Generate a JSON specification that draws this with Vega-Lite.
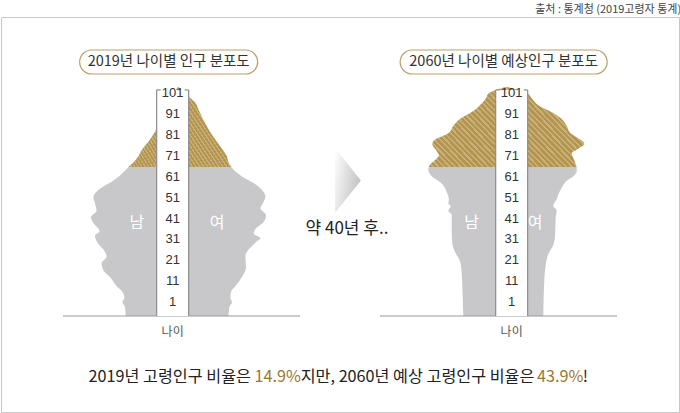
{
"$schema":"https://vega.github.io/schema/vega-lite/v6.json",
"width":678,"height":395,
"autosize":"none",
"padding":{"top":17,"left":1,"right":1,"bottom":1},
"background":"white",
"config":{"view":{"stroke":"#c9c9c9","strokeWidth":1},"axis":{"disable":true}},
"datasets":{
"pop":[
{"year":2019,"sex":"남","age":0,"pop":262},{"year":2019,"sex":"남","age":4,"pop":265},{"year":2019,"sex":"남","age":6,"pop":278},{"year":2019,"sex":"남","age":8,"pop":268},{"year":2019,"sex":"남","age":11,"pop":282},{"year":2019,"sex":"남","age":13,"pop":306},{"year":2019,"sex":"남","age":17,"pop":340},{"year":2019,"sex":"남","age":20,"pop":373},{"year":2019,"sex":"남","age":23,"pop":382},{"year":2019,"sex":"남","age":26,"pop":357},{"year":2019,"sex":"남","age":29,"pop":373},{"year":2019,"sex":"남","age":32,"pop":402},{"year":2019,"sex":"남","age":35,"pop":415},{"year":2019,"sex":"남","age":37,"pop":392},{"year":2019,"sex":"남","age":40,"pop":418},{"year":2019,"sex":"남","age":43,"pop":435},{"year":2019,"sex":"남","age":46,"pop":407},{"year":2019,"sex":"남","age":49,"pop":415},{"year":2019,"sex":"남","age":52,"pop":423},{"year":2019,"sex":"남","age":55,"pop":398},{"year":2019,"sex":"남","age":59,"pop":325},{"year":2019,"sex":"남","age":62,"pop":282},{"year":2019,"sex":"남","age":65,"pop":248},{"year":2019,"sex":"남","age":67,"pop":223},{"year":2019,"sex":"남","age":70,"pop":196},{"year":2019,"sex":"남","age":72,"pop":184},{"year":2019,"sex":"남","age":77,"pop":140},{"year":2019,"sex":"남","age":84,"pop":95},{"year":2019,"sex":"남","age":91,"pop":80},{"year":2019,"sex":"남","age":95,"pop":50},{"year":2019,"sex":"남","age":98,"pop":15},{"year":2019,"sex":"남","age":100,"pop":0},
{"year":2019,"sex":"여","age":0,"pop":253},{"year":2019,"sex":"여","age":4,"pop":257},{"year":2019,"sex":"여","age":6,"pop":270},{"year":2019,"sex":"여","age":8,"pop":262},{"year":2019,"sex":"여","age":11,"pop":267},{"year":2019,"sex":"여","age":13,"pop":287},{"year":2019,"sex":"여","age":17,"pop":320},{"year":2019,"sex":"여","age":21,"pop":340},{"year":2019,"sex":"여","age":26,"pop":337},{"year":2019,"sex":"여","age":29,"pop":353},{"year":2019,"sex":"여","age":32,"pop":387},{"year":2019,"sex":"여","age":34,"pop":412},{"year":2019,"sex":"여","age":36,"pop":378},{"year":2019,"sex":"여","age":38,"pop":387},{"year":2019,"sex":"여","age":41,"pop":428},{"year":2019,"sex":"여","age":44,"pop":440},{"year":2019,"sex":"여","age":47,"pop":412},{"year":2019,"sex":"여","age":49,"pop":423},{"year":2019,"sex":"여","age":52,"pop":437},{"year":2019,"sex":"여","age":55,"pop":420},{"year":2019,"sex":"여","age":58,"pop":378},{"year":2019,"sex":"여","age":61,"pop":318},{"year":2019,"sex":"여","age":63,"pop":287},{"year":2019,"sex":"여","age":65,"pop":267},{"year":2019,"sex":"여","age":67,"pop":253},{"year":2019,"sex":"여","age":70,"pop":243},{"year":2019,"sex":"여","age":74,"pop":212},{"year":2019,"sex":"여","age":78,"pop":178},{"year":2019,"sex":"여","age":84,"pop":137},{"year":2019,"sex":"여","age":90,"pop":103},{"year":2019,"sex":"여","age":93,"pop":87},{"year":2019,"sex":"여","age":96,"pop":50},{"year":2019,"sex":"여","age":100,"pop":0},
{"year":2060,"sex":"남","age":0,"pop":216},{"year":2060,"sex":"남","age":13,"pop":221},{"year":2060,"sex":"남","age":19,"pop":224},{"year":2060,"sex":"남","age":24,"pop":233},{"year":2060,"sex":"남","age":28,"pop":258},{"year":2060,"sex":"남","age":32,"pop":271},{"year":2060,"sex":"남","age":38,"pop":274},{"year":2060,"sex":"남","age":44,"pop":274},{"year":2060,"sex":"남","age":46,"pop":291},{"year":2060,"sex":"남","age":48,"pop":278},{"year":2060,"sex":"남","age":49,"pop":291},{"year":2060,"sex":"남","age":51,"pop":288},{"year":2060,"sex":"남","age":54,"pop":299},{"year":2060,"sex":"남","age":57,"pop":316},{"year":2060,"sex":"남","age":59,"pop":341},{"year":2060,"sex":"남","age":61,"pop":374},{"year":2060,"sex":"남","age":64,"pop":391},{"year":2060,"sex":"남","age":65,"pop":388},{"year":2060,"sex":"남","age":66,"pop":383},{"year":2060,"sex":"남","age":68,"pop":358},{"year":2060,"sex":"남","age":70,"pop":338},{"year":2060,"sex":"남","age":72,"pop":349},{"year":2060,"sex":"남","age":75,"pop":371},{"year":2060,"sex":"남","age":77,"pop":358},{"year":2060,"sex":"남","age":78,"pop":333},{"year":2060,"sex":"남","age":80,"pop":288},{"year":2060,"sex":"남","age":83,"pop":266},{"year":2060,"sex":"남","age":86,"pop":233},{"year":2060,"sex":"남","age":89,"pop":174},{"year":2060,"sex":"남","age":92,"pop":133},{"year":2060,"sex":"남","age":95,"pop":103},{"year":2060,"sex":"남","age":97,"pop":91},{"year":2060,"sex":"남","age":100,"pop":0},
{"year":2060,"sex":"여","age":0,"pop":184},{"year":2060,"sex":"여","age":16,"pop":189},{"year":2060,"sex":"여","age":22,"pop":196},{"year":2060,"sex":"여","age":27,"pop":209},{"year":2060,"sex":"여","age":31,"pop":234},{"year":2060,"sex":"여","age":35,"pop":243},{"year":2060,"sex":"여","age":43,"pop":246},{"year":2060,"sex":"여","age":46,"pop":251},{"year":2060,"sex":"여","age":48,"pop":234},{"year":2060,"sex":"여","age":51,"pop":251},{"year":2060,"sex":"여","age":53,"pop":259},{"year":2060,"sex":"여","age":56,"pop":276},{"year":2060,"sex":"여","age":59,"pop":301},{"year":2060,"sex":"여","age":61,"pop":334},{"year":2060,"sex":"여","age":63,"pop":351},{"year":2060,"sex":"여","age":65,"pop":351},{"year":2060,"sex":"여","age":68,"pop":339},{"year":2060,"sex":"여","age":71,"pop":326},{"year":2060,"sex":"여","age":73,"pop":359},{"year":2060,"sex":"여","age":75,"pop":389},{"year":2060,"sex":"여","age":76,"pop":384},{"year":2060,"sex":"여","age":78,"pop":351},{"year":2060,"sex":"여","age":80,"pop":318},{"year":2060,"sex":"여","age":83,"pop":301},{"year":2060,"sex":"여","age":86,"pop":276},{"year":2060,"sex":"여","age":89,"pop":226},{"year":2060,"sex":"여","age":92,"pop":159},{"year":2060,"sex":"여","age":95,"pop":126},{"year":2060,"sex":"여","age":97,"pop":109},{"year":2060,"sex":"여","age":100,"pop":0}
],
"years":[{"year":"2019"},{"year":"2060"}],
"ages":[{"year":"2019","age":1},{"year":"2019","age":11},{"year":"2019","age":21},{"year":"2019","age":31},{"year":"2019","age":41},{"year":"2019","age":51},{"year":"2019","age":61},{"year":"2019","age":71},{"year":"2019","age":81},{"year":"2019","age":91},{"year":"2019","age":101},
{"year":"2060","age":1},{"year":"2060","age":11},{"year":"2060","age":21},{"year":"2060","age":31},{"year":"2060","age":41},{"year":"2060","age":51},{"year":"2060","age":61},{"year":"2060","age":71},{"year":"2060","age":81},{"year":"2060","age":91},{"year":"2060","age":101}],
"titles":[{"year":"2019","title":"2019년 나이별 인구 분포도"},{"year":"2060","title":"2060년 나이별 예상인구 분포도"}],
"mid":[{"year":"mid","label":"약 40년 후.."}],
"src":[{"year":"2060","label":"출처 : 통계청 (2019고령자 통계)"}]
},
"resolve":{"scale":{"x":"independent","y":"independent"}},
"layer":[
{"layer":[
 {"data":{"name":"pop"},"transform":[{"filter":"datum.year == 2019 && datum.sex == '남' && datum.age <= 65"}],
  "mark":{"type":"area","orient":"horizontal","interpolate":"monotone","color":"#c8c8ca"},
  "encoding":{"y":{"field":"age","type":"quantitative","scale":{"domain":[-41.885,130.45],"nice":false,"zero":false}},"x":{"field":"pop","type":"quantitative","scale":{"domain":[-2505,885],"reverse":true,"nice":false,"zero":false}},"x2":{"datum":0}}},
 {"data":{"name":"pop"},"transform":[{"filter":"datum.year == 2019 && datum.sex == '남' && datum.age >= 65"}],
  "mark":{"type":"area","orient":"horizontal","interpolate":"monotone","color":{"gradient":"linear","x1":0,"y1":1,"x2":1,"y2":0,"stops":[{"offset":0,"color":"#b3954f"},{"offset":0.0214,"color":"#b3954f"},{"offset":0.0214,"color":"#c9b07a"},{"offset":0.0357,"color":"#c9b07a"},{"offset":0.0357,"color":"#b3954f"},{"offset":0.0571,"color":"#b3954f"},{"offset":0.0571,"color":"#c9b07a"},{"offset":0.0714,"color":"#c9b07a"},{"offset":0.0714,"color":"#b3954f"},{"offset":0.0929,"color":"#b3954f"},{"offset":0.0929,"color":"#c9b07a"},{"offset":0.1071,"color":"#c9b07a"},{"offset":0.1071,"color":"#b3954f"},{"offset":0.1286,"color":"#b3954f"},{"offset":0.1286,"color":"#c9b07a"},{"offset":0.1429,"color":"#c9b07a"},{"offset":0.1429,"color":"#b3954f"},{"offset":0.1643,"color":"#b3954f"},{"offset":0.1643,"color":"#c9b07a"},{"offset":0.1786,"color":"#c9b07a"},{"offset":0.1786,"color":"#b3954f"},{"offset":0.2,"color":"#b3954f"},{"offset":0.2,"color":"#c9b07a"},{"offset":0.2143,"color":"#c9b07a"},{"offset":0.2143,"color":"#b3954f"},{"offset":0.2357,"color":"#b3954f"},{"offset":0.2357,"color":"#c9b07a"},{"offset":0.25,"color":"#c9b07a"},{"offset":0.25,"color":"#b3954f"},{"offset":0.2714,"color":"#b3954f"},{"offset":0.2714,"color":"#c9b07a"},{"offset":0.2857,"color":"#c9b07a"},{"offset":0.2857,"color":"#b3954f"},{"offset":0.3071,"color":"#b3954f"},{"offset":0.3071,"color":"#c9b07a"},{"offset":0.3214,"color":"#c9b07a"},{"offset":0.3214,"color":"#b3954f"},{"offset":0.3429,"color":"#b3954f"},{"offset":0.3429,"color":"#c9b07a"},{"offset":0.3571,"color":"#c9b07a"},{"offset":0.3571,"color":"#b3954f"},{"offset":0.3786,"color":"#b3954f"},{"offset":0.3786,"color":"#c9b07a"},{"offset":0.3929,"color":"#c9b07a"},{"offset":0.3929,"color":"#b3954f"},{"offset":0.4143,"color":"#b3954f"},{"offset":0.4143,"color":"#c9b07a"},{"offset":0.4286,"color":"#c9b07a"},{"offset":0.4286,"color":"#b3954f"},{"offset":0.45,"color":"#b3954f"},{"offset":0.45,"color":"#c9b07a"},{"offset":0.4643,"color":"#c9b07a"},{"offset":0.4643,"color":"#b3954f"},{"offset":0.4857,"color":"#b3954f"},{"offset":0.4857,"color":"#c9b07a"},{"offset":0.5,"color":"#c9b07a"},{"offset":0.5,"color":"#b3954f"},{"offset":0.5214,"color":"#b3954f"},{"offset":0.5214,"color":"#c9b07a"},{"offset":0.5357,"color":"#c9b07a"},{"offset":0.5357,"color":"#b3954f"},{"offset":0.5571,"color":"#b3954f"},{"offset":0.5571,"color":"#c9b07a"},{"offset":0.5714,"color":"#c9b07a"},{"offset":0.5714,"color":"#b3954f"},{"offset":0.5929,"color":"#b3954f"},{"offset":0.5929,"color":"#c9b07a"},{"offset":0.6071,"color":"#c9b07a"},{"offset":0.6071,"color":"#b3954f"},{"offset":0.6286,"color":"#b3954f"},{"offset":0.6286,"color":"#c9b07a"},{"offset":0.6429,"color":"#c9b07a"},{"offset":0.6429,"color":"#b3954f"},{"offset":0.6643,"color":"#b3954f"},{"offset":0.6643,"color":"#c9b07a"},{"offset":0.6786,"color":"#c9b07a"},{"offset":0.6786,"color":"#b3954f"},{"offset":0.7,"color":"#b3954f"},{"offset":0.7,"color":"#c9b07a"},{"offset":0.7143,"color":"#c9b07a"},{"offset":0.7143,"color":"#b3954f"},{"offset":0.7357,"color":"#b3954f"},{"offset":0.7357,"color":"#c9b07a"},{"offset":0.75,"color":"#c9b07a"},{"offset":0.75,"color":"#b3954f"},{"offset":0.7714,"color":"#b3954f"},{"offset":0.7714,"color":"#c9b07a"},{"offset":0.7857,"color":"#c9b07a"},{"offset":0.7857,"color":"#b3954f"},{"offset":0.8071,"color":"#b3954f"},{"offset":0.8071,"color":"#c9b07a"},{"offset":0.8214,"color":"#c9b07a"},{"offset":0.8214,"color":"#b3954f"},{"offset":0.8429,"color":"#b3954f"},{"offset":0.8429,"color":"#c9b07a"},{"offset":0.8571,"color":"#c9b07a"},{"offset":0.8571,"color":"#b3954f"},{"offset":0.8786,"color":"#b3954f"},{"offset":0.8786,"color":"#c9b07a"},{"offset":0.8929,"color":"#c9b07a"},{"offset":0.8929,"color":"#b3954f"},{"offset":0.9143,"color":"#b3954f"},{"offset":0.9143,"color":"#c9b07a"},{"offset":0.9286,"color":"#c9b07a"},{"offset":0.9286,"color":"#b3954f"},{"offset":0.95,"color":"#b3954f"},{"offset":0.95,"color":"#c9b07a"},{"offset":0.9643,"color":"#c9b07a"},{"offset":0.9643,"color":"#b3954f"},{"offset":0.9857,"color":"#b3954f"},{"offset":0.9857,"color":"#c9b07a"},{"offset":1,"color":"#c9b07a"}]}},
  "encoding":{"y":{"field":"age","type":"quantitative","scale":{"domain":[-41.885,130.45],"nice":false,"zero":false}},"x":{"field":"pop","type":"quantitative","scale":{"domain":[-2505,885],"reverse":true,"nice":false,"zero":false}},"x2":{"datum":0}}},
 {"data":{"values":[{"label":"남"}]},"mark":{"type":"text","color":"#ffffff","fontSize":16,"font":"Noto Sans CJK KR"},
  "encoding":{"text":{"field":"label"},"x":{"datum":206,"type":"quantitative","scale":{"domain":[-2505,885],"reverse":true,"nice":false,"zero":false}},"y":{"datum":40.4,"type":"quantitative","scale":{"domain":[-41.885,130.45],"nice":false,"zero":false}}}}
]},
{"layer":[
 {"data":{"name":"pop"},"transform":[{"filter":"datum.year == 2019 && datum.sex == '여' && datum.age <= 65"}],
  "mark":{"type":"area","orient":"horizontal","interpolate":"monotone","color":"#c8c8ca"},
  "encoding":{"y":{"field":"age","type":"quantitative","scale":{"domain":[-41.885,130.45],"nice":false,"zero":false}},"x":{"field":"pop","type":"quantitative","scale":{"domain":[-885,2505],"nice":false,"zero":false}},"x2":{"datum":0}}},
 {"data":{"name":"pop"},"transform":[{"filter":"datum.year == 2019 && datum.sex == '여' && datum.age >= 65"}],
  "mark":{"type":"area","orient":"horizontal","interpolate":"monotone","color":{"gradient":"linear","x1":0,"y1":1,"x2":1,"y2":0,"stops":[{"offset":0,"color":"#b3954f"},{"offset":0.0214,"color":"#b3954f"},{"offset":0.0214,"color":"#c9b07a"},{"offset":0.0357,"color":"#c9b07a"},{"offset":0.0357,"color":"#b3954f"},{"offset":0.0571,"color":"#b3954f"},{"offset":0.0571,"color":"#c9b07a"},{"offset":0.0714,"color":"#c9b07a"},{"offset":0.0714,"color":"#b3954f"},{"offset":0.0929,"color":"#b3954f"},{"offset":0.0929,"color":"#c9b07a"},{"offset":0.1071,"color":"#c9b07a"},{"offset":0.1071,"color":"#b3954f"},{"offset":0.1286,"color":"#b3954f"},{"offset":0.1286,"color":"#c9b07a"},{"offset":0.1429,"color":"#c9b07a"},{"offset":0.1429,"color":"#b3954f"},{"offset":0.1643,"color":"#b3954f"},{"offset":0.1643,"color":"#c9b07a"},{"offset":0.1786,"color":"#c9b07a"},{"offset":0.1786,"color":"#b3954f"},{"offset":0.2,"color":"#b3954f"},{"offset":0.2,"color":"#c9b07a"},{"offset":0.2143,"color":"#c9b07a"},{"offset":0.2143,"color":"#b3954f"},{"offset":0.2357,"color":"#b3954f"},{"offset":0.2357,"color":"#c9b07a"},{"offset":0.25,"color":"#c9b07a"},{"offset":0.25,"color":"#b3954f"},{"offset":0.2714,"color":"#b3954f"},{"offset":0.2714,"color":"#c9b07a"},{"offset":0.2857,"color":"#c9b07a"},{"offset":0.2857,"color":"#b3954f"},{"offset":0.3071,"color":"#b3954f"},{"offset":0.3071,"color":"#c9b07a"},{"offset":0.3214,"color":"#c9b07a"},{"offset":0.3214,"color":"#b3954f"},{"offset":0.3429,"color":"#b3954f"},{"offset":0.3429,"color":"#c9b07a"},{"offset":0.3571,"color":"#c9b07a"},{"offset":0.3571,"color":"#b3954f"},{"offset":0.3786,"color":"#b3954f"},{"offset":0.3786,"color":"#c9b07a"},{"offset":0.3929,"color":"#c9b07a"},{"offset":0.3929,"color":"#b3954f"},{"offset":0.4143,"color":"#b3954f"},{"offset":0.4143,"color":"#c9b07a"},{"offset":0.4286,"color":"#c9b07a"},{"offset":0.4286,"color":"#b3954f"},{"offset":0.45,"color":"#b3954f"},{"offset":0.45,"color":"#c9b07a"},{"offset":0.4643,"color":"#c9b07a"},{"offset":0.4643,"color":"#b3954f"},{"offset":0.4857,"color":"#b3954f"},{"offset":0.4857,"color":"#c9b07a"},{"offset":0.5,"color":"#c9b07a"},{"offset":0.5,"color":"#b3954f"},{"offset":0.5214,"color":"#b3954f"},{"offset":0.5214,"color":"#c9b07a"},{"offset":0.5357,"color":"#c9b07a"},{"offset":0.5357,"color":"#b3954f"},{"offset":0.5571,"color":"#b3954f"},{"offset":0.5571,"color":"#c9b07a"},{"offset":0.5714,"color":"#c9b07a"},{"offset":0.5714,"color":"#b3954f"},{"offset":0.5929,"color":"#b3954f"},{"offset":0.5929,"color":"#c9b07a"},{"offset":0.6071,"color":"#c9b07a"},{"offset":0.6071,"color":"#b3954f"},{"offset":0.6286,"color":"#b3954f"},{"offset":0.6286,"color":"#c9b07a"},{"offset":0.6429,"color":"#c9b07a"},{"offset":0.6429,"color":"#b3954f"},{"offset":0.6643,"color":"#b3954f"},{"offset":0.6643,"color":"#c9b07a"},{"offset":0.6786,"color":"#c9b07a"},{"offset":0.6786,"color":"#b3954f"},{"offset":0.7,"color":"#b3954f"},{"offset":0.7,"color":"#c9b07a"},{"offset":0.7143,"color":"#c9b07a"},{"offset":0.7143,"color":"#b3954f"},{"offset":0.7357,"color":"#b3954f"},{"offset":0.7357,"color":"#c9b07a"},{"offset":0.75,"color":"#c9b07a"},{"offset":0.75,"color":"#b3954f"},{"offset":0.7714,"color":"#b3954f"},{"offset":0.7714,"color":"#c9b07a"},{"offset":0.7857,"color":"#c9b07a"},{"offset":0.7857,"color":"#b3954f"},{"offset":0.8071,"color":"#b3954f"},{"offset":0.8071,"color":"#c9b07a"},{"offset":0.8214,"color":"#c9b07a"},{"offset":0.8214,"color":"#b3954f"},{"offset":0.8429,"color":"#b3954f"},{"offset":0.8429,"color":"#c9b07a"},{"offset":0.8571,"color":"#c9b07a"},{"offset":0.8571,"color":"#b3954f"},{"offset":0.8786,"color":"#b3954f"},{"offset":0.8786,"color":"#c9b07a"},{"offset":0.8929,"color":"#c9b07a"},{"offset":0.8929,"color":"#b3954f"},{"offset":0.9143,"color":"#b3954f"},{"offset":0.9143,"color":"#c9b07a"},{"offset":0.9286,"color":"#c9b07a"},{"offset":0.9286,"color":"#b3954f"},{"offset":0.95,"color":"#b3954f"},{"offset":0.95,"color":"#c9b07a"},{"offset":0.9643,"color":"#c9b07a"},{"offset":0.9643,"color":"#b3954f"},{"offset":0.9857,"color":"#b3954f"},{"offset":0.9857,"color":"#c9b07a"},{"offset":1,"color":"#c9b07a"}]}},
  "encoding":{"y":{"field":"age","type":"quantitative","scale":{"domain":[-41.885,130.45],"nice":false,"zero":false}},"x":{"field":"pop","type":"quantitative","scale":{"domain":[-885,2505],"nice":false,"zero":false}},"x2":{"datum":0}}},
 {"data":{"values":[{"label":"여"}]},"mark":{"type":"text","color":"#ffffff","fontSize":16,"font":"Noto Sans CJK KR"},
  "encoding":{"text":{"field":"label"},"x":{"datum":195,"type":"quantitative","scale":{"domain":[-885,2505],"nice":false,"zero":false}},"y":{"datum":40.4,"type":"quantitative","scale":{"domain":[-41.885,130.45],"nice":false,"zero":false}}}},
 {"data":{"values":[{"label":"base"}]},"mark":{"type":"rule","color":"#9a9a9a","strokeWidth":1.2},
  "encoding":{"x":{"datum":-575,"type":"quantitative","scale":{"domain":[-885,2505],"nice":false,"zero":false}},"x2":{"datum":610},"y":{"datum":0,"type":"quantitative","scale":{"domain":[-41.885,130.45],"nice":false,"zero":false}}}}
]},
{"layer":[
 {"data":{"name":"pop"},"transform":[{"filter":"datum.year == 2060 && datum.sex == '남' && datum.age <= 65"}],
  "mark":{"type":"area","orient":"horizontal","interpolate":"monotone","color":"#c8c8ca"},
  "encoding":{"y":{"field":"age","type":"quantitative","scale":{"domain":[-41.885,130.45],"nice":false,"zero":false}},"x":{"field":"pop","type":"quantitative","scale":{"domain":[-862.5,2527.5],"reverse":true,"nice":false,"zero":false}},"x2":{"datum":0}}},
 {"data":{"name":"pop"},"transform":[{"filter":"datum.year == 2060 && datum.sex == '남' && datum.age >= 65"}],
  "mark":{"type":"area","orient":"horizontal","interpolate":"monotone","color":{"gradient":"linear","x1":0,"y1":1,"x2":1,"y2":0,"stops":[{"offset":0,"color":"#b3954f"},{"offset":0.0214,"color":"#b3954f"},{"offset":0.0214,"color":"#c9b07a"},{"offset":0.0357,"color":"#c9b07a"},{"offset":0.0357,"color":"#b3954f"},{"offset":0.0571,"color":"#b3954f"},{"offset":0.0571,"color":"#c9b07a"},{"offset":0.0714,"color":"#c9b07a"},{"offset":0.0714,"color":"#b3954f"},{"offset":0.0929,"color":"#b3954f"},{"offset":0.0929,"color":"#c9b07a"},{"offset":0.1071,"color":"#c9b07a"},{"offset":0.1071,"color":"#b3954f"},{"offset":0.1286,"color":"#b3954f"},{"offset":0.1286,"color":"#c9b07a"},{"offset":0.1429,"color":"#c9b07a"},{"offset":0.1429,"color":"#b3954f"},{"offset":0.1643,"color":"#b3954f"},{"offset":0.1643,"color":"#c9b07a"},{"offset":0.1786,"color":"#c9b07a"},{"offset":0.1786,"color":"#b3954f"},{"offset":0.2,"color":"#b3954f"},{"offset":0.2,"color":"#c9b07a"},{"offset":0.2143,"color":"#c9b07a"},{"offset":0.2143,"color":"#b3954f"},{"offset":0.2357,"color":"#b3954f"},{"offset":0.2357,"color":"#c9b07a"},{"offset":0.25,"color":"#c9b07a"},{"offset":0.25,"color":"#b3954f"},{"offset":0.2714,"color":"#b3954f"},{"offset":0.2714,"color":"#c9b07a"},{"offset":0.2857,"color":"#c9b07a"},{"offset":0.2857,"color":"#b3954f"},{"offset":0.3071,"color":"#b3954f"},{"offset":0.3071,"color":"#c9b07a"},{"offset":0.3214,"color":"#c9b07a"},{"offset":0.3214,"color":"#b3954f"},{"offset":0.3429,"color":"#b3954f"},{"offset":0.3429,"color":"#c9b07a"},{"offset":0.3571,"color":"#c9b07a"},{"offset":0.3571,"color":"#b3954f"},{"offset":0.3786,"color":"#b3954f"},{"offset":0.3786,"color":"#c9b07a"},{"offset":0.3929,"color":"#c9b07a"},{"offset":0.3929,"color":"#b3954f"},{"offset":0.4143,"color":"#b3954f"},{"offset":0.4143,"color":"#c9b07a"},{"offset":0.4286,"color":"#c9b07a"},{"offset":0.4286,"color":"#b3954f"},{"offset":0.45,"color":"#b3954f"},{"offset":0.45,"color":"#c9b07a"},{"offset":0.4643,"color":"#c9b07a"},{"offset":0.4643,"color":"#b3954f"},{"offset":0.4857,"color":"#b3954f"},{"offset":0.4857,"color":"#c9b07a"},{"offset":0.5,"color":"#c9b07a"},{"offset":0.5,"color":"#b3954f"},{"offset":0.5214,"color":"#b3954f"},{"offset":0.5214,"color":"#c9b07a"},{"offset":0.5357,"color":"#c9b07a"},{"offset":0.5357,"color":"#b3954f"},{"offset":0.5571,"color":"#b3954f"},{"offset":0.5571,"color":"#c9b07a"},{"offset":0.5714,"color":"#c9b07a"},{"offset":0.5714,"color":"#b3954f"},{"offset":0.5929,"color":"#b3954f"},{"offset":0.5929,"color":"#c9b07a"},{"offset":0.6071,"color":"#c9b07a"},{"offset":0.6071,"color":"#b3954f"},{"offset":0.6286,"color":"#b3954f"},{"offset":0.6286,"color":"#c9b07a"},{"offset":0.6429,"color":"#c9b07a"},{"offset":0.6429,"color":"#b3954f"},{"offset":0.6643,"color":"#b3954f"},{"offset":0.6643,"color":"#c9b07a"},{"offset":0.6786,"color":"#c9b07a"},{"offset":0.6786,"color":"#b3954f"},{"offset":0.7,"color":"#b3954f"},{"offset":0.7,"color":"#c9b07a"},{"offset":0.7143,"color":"#c9b07a"},{"offset":0.7143,"color":"#b3954f"},{"offset":0.7357,"color":"#b3954f"},{"offset":0.7357,"color":"#c9b07a"},{"offset":0.75,"color":"#c9b07a"},{"offset":0.75,"color":"#b3954f"},{"offset":0.7714,"color":"#b3954f"},{"offset":0.7714,"color":"#c9b07a"},{"offset":0.7857,"color":"#c9b07a"},{"offset":0.7857,"color":"#b3954f"},{"offset":0.8071,"color":"#b3954f"},{"offset":0.8071,"color":"#c9b07a"},{"offset":0.8214,"color":"#c9b07a"},{"offset":0.8214,"color":"#b3954f"},{"offset":0.8429,"color":"#b3954f"},{"offset":0.8429,"color":"#c9b07a"},{"offset":0.8571,"color":"#c9b07a"},{"offset":0.8571,"color":"#b3954f"},{"offset":0.8786,"color":"#b3954f"},{"offset":0.8786,"color":"#c9b07a"},{"offset":0.8929,"color":"#c9b07a"},{"offset":0.8929,"color":"#b3954f"},{"offset":0.9143,"color":"#b3954f"},{"offset":0.9143,"color":"#c9b07a"},{"offset":0.9286,"color":"#c9b07a"},{"offset":0.9286,"color":"#b3954f"},{"offset":0.95,"color":"#b3954f"},{"offset":0.95,"color":"#c9b07a"},{"offset":0.9643,"color":"#c9b07a"},{"offset":0.9643,"color":"#b3954f"},{"offset":0.9857,"color":"#b3954f"},{"offset":0.9857,"color":"#c9b07a"},{"offset":1,"color":"#c9b07a"}]}},
  "encoding":{"y":{"field":"age","type":"quantitative","scale":{"domain":[-41.885,130.45],"nice":false,"zero":false}},"x":{"field":"pop","type":"quantitative","scale":{"domain":[-862.5,2527.5],"reverse":true,"nice":false,"zero":false}},"x2":{"datum":0}}},
 {"data":{"values":[{"label":"남"}]},"mark":{"type":"text","color":"#ffffff","fontSize":16,"font":"Noto Sans CJK KR"},
  "encoding":{"text":{"field":"label"},"x":{"datum":174,"type":"quantitative","scale":{"domain":[-862.5,2527.5],"reverse":true,"nice":false,"zero":false}},"y":{"datum":40.4,"type":"quantitative","scale":{"domain":[-41.885,130.45],"nice":false,"zero":false}}}}
]},
{"layer":[
 {"data":{"name":"pop"},"transform":[{"filter":"datum.year == 2060 && datum.sex == '여' && datum.age <= 65"}],
  "mark":{"type":"area","orient":"horizontal","interpolate":"monotone","color":"#c8c8ca"},
  "encoding":{"y":{"field":"age","type":"quantitative","scale":{"domain":[-41.885,130.45],"nice":false,"zero":false}},"x":{"field":"pop","type":"quantitative","scale":{"domain":[-2527.5,862.5],"nice":false,"zero":false}},"x2":{"datum":0}}},
 {"data":{"name":"pop"},"transform":[{"filter":"datum.year == 2060 && datum.sex == '여' && datum.age >= 65"}],
  "mark":{"type":"area","orient":"horizontal","interpolate":"monotone","color":{"gradient":"linear","x1":0,"y1":1,"x2":1,"y2":0,"stops":[{"offset":0,"color":"#b3954f"},{"offset":0.0214,"color":"#b3954f"},{"offset":0.0214,"color":"#c9b07a"},{"offset":0.0357,"color":"#c9b07a"},{"offset":0.0357,"color":"#b3954f"},{"offset":0.0571,"color":"#b3954f"},{"offset":0.0571,"color":"#c9b07a"},{"offset":0.0714,"color":"#c9b07a"},{"offset":0.0714,"color":"#b3954f"},{"offset":0.0929,"color":"#b3954f"},{"offset":0.0929,"color":"#c9b07a"},{"offset":0.1071,"color":"#c9b07a"},{"offset":0.1071,"color":"#b3954f"},{"offset":0.1286,"color":"#b3954f"},{"offset":0.1286,"color":"#c9b07a"},{"offset":0.1429,"color":"#c9b07a"},{"offset":0.1429,"color":"#b3954f"},{"offset":0.1643,"color":"#b3954f"},{"offset":0.1643,"color":"#c9b07a"},{"offset":0.1786,"color":"#c9b07a"},{"offset":0.1786,"color":"#b3954f"},{"offset":0.2,"color":"#b3954f"},{"offset":0.2,"color":"#c9b07a"},{"offset":0.2143,"color":"#c9b07a"},{"offset":0.2143,"color":"#b3954f"},{"offset":0.2357,"color":"#b3954f"},{"offset":0.2357,"color":"#c9b07a"},{"offset":0.25,"color":"#c9b07a"},{"offset":0.25,"color":"#b3954f"},{"offset":0.2714,"color":"#b3954f"},{"offset":0.2714,"color":"#c9b07a"},{"offset":0.2857,"color":"#c9b07a"},{"offset":0.2857,"color":"#b3954f"},{"offset":0.3071,"color":"#b3954f"},{"offset":0.3071,"color":"#c9b07a"},{"offset":0.3214,"color":"#c9b07a"},{"offset":0.3214,"color":"#b3954f"},{"offset":0.3429,"color":"#b3954f"},{"offset":0.3429,"color":"#c9b07a"},{"offset":0.3571,"color":"#c9b07a"},{"offset":0.3571,"color":"#b3954f"},{"offset":0.3786,"color":"#b3954f"},{"offset":0.3786,"color":"#c9b07a"},{"offset":0.3929,"color":"#c9b07a"},{"offset":0.3929,"color":"#b3954f"},{"offset":0.4143,"color":"#b3954f"},{"offset":0.4143,"color":"#c9b07a"},{"offset":0.4286,"color":"#c9b07a"},{"offset":0.4286,"color":"#b3954f"},{"offset":0.45,"color":"#b3954f"},{"offset":0.45,"color":"#c9b07a"},{"offset":0.4643,"color":"#c9b07a"},{"offset":0.4643,"color":"#b3954f"},{"offset":0.4857,"color":"#b3954f"},{"offset":0.4857,"color":"#c9b07a"},{"offset":0.5,"color":"#c9b07a"},{"offset":0.5,"color":"#b3954f"},{"offset":0.5214,"color":"#b3954f"},{"offset":0.5214,"color":"#c9b07a"},{"offset":0.5357,"color":"#c9b07a"},{"offset":0.5357,"color":"#b3954f"},{"offset":0.5571,"color":"#b3954f"},{"offset":0.5571,"color":"#c9b07a"},{"offset":0.5714,"color":"#c9b07a"},{"offset":0.5714,"color":"#b3954f"},{"offset":0.5929,"color":"#b3954f"},{"offset":0.5929,"color":"#c9b07a"},{"offset":0.6071,"color":"#c9b07a"},{"offset":0.6071,"color":"#b3954f"},{"offset":0.6286,"color":"#b3954f"},{"offset":0.6286,"color":"#c9b07a"},{"offset":0.6429,"color":"#c9b07a"},{"offset":0.6429,"color":"#b3954f"},{"offset":0.6643,"color":"#b3954f"},{"offset":0.6643,"color":"#c9b07a"},{"offset":0.6786,"color":"#c9b07a"},{"offset":0.6786,"color":"#b3954f"},{"offset":0.7,"color":"#b3954f"},{"offset":0.7,"color":"#c9b07a"},{"offset":0.7143,"color":"#c9b07a"},{"offset":0.7143,"color":"#b3954f"},{"offset":0.7357,"color":"#b3954f"},{"offset":0.7357,"color":"#c9b07a"},{"offset":0.75,"color":"#c9b07a"},{"offset":0.75,"color":"#b3954f"},{"offset":0.7714,"color":"#b3954f"},{"offset":0.7714,"color":"#c9b07a"},{"offset":0.7857,"color":"#c9b07a"},{"offset":0.7857,"color":"#b3954f"},{"offset":0.8071,"color":"#b3954f"},{"offset":0.8071,"color":"#c9b07a"},{"offset":0.8214,"color":"#c9b07a"},{"offset":0.8214,"color":"#b3954f"},{"offset":0.8429,"color":"#b3954f"},{"offset":0.8429,"color":"#c9b07a"},{"offset":0.8571,"color":"#c9b07a"},{"offset":0.8571,"color":"#b3954f"},{"offset":0.8786,"color":"#b3954f"},{"offset":0.8786,"color":"#c9b07a"},{"offset":0.8929,"color":"#c9b07a"},{"offset":0.8929,"color":"#b3954f"},{"offset":0.9143,"color":"#b3954f"},{"offset":0.9143,"color":"#c9b07a"},{"offset":0.9286,"color":"#c9b07a"},{"offset":0.9286,"color":"#b3954f"},{"offset":0.95,"color":"#b3954f"},{"offset":0.95,"color":"#c9b07a"},{"offset":0.9643,"color":"#c9b07a"},{"offset":0.9643,"color":"#b3954f"},{"offset":0.9857,"color":"#b3954f"},{"offset":0.9857,"color":"#c9b07a"},{"offset":1,"color":"#c9b07a"}]}},
  "encoding":{"y":{"field":"age","type":"quantitative","scale":{"domain":[-41.885,130.45],"nice":false,"zero":false}},"x":{"field":"pop","type":"quantitative","scale":{"domain":[-2527.5,862.5],"nice":false,"zero":false}},"x2":{"datum":0}}},
 {"data":{"values":[{"label":"여"}]},"mark":{"type":"text","color":"#ffffff","fontSize":16,"font":"Noto Sans CJK KR"},
  "encoding":{"text":{"field":"label"},"x":{"datum":142.5,"type":"quantitative","scale":{"domain":[-2527.5,862.5],"nice":false,"zero":false}},"y":{"datum":40.4,"type":"quantitative","scale":{"domain":[-41.885,130.45],"nice":false,"zero":false}}}},
 {"data":{"values":[{"label":"base"}]},"mark":{"type":"rule","color":"#9a9a9a","strokeWidth":1.2},
  "encoding":{"x":{"datum":-632.5,"type":"quantitative","scale":{"domain":[-2527.5,862.5],"nice":false,"zero":false}},"x2":{"datum":552.5},"y":{"datum":0,"type":"quantitative","scale":{"domain":[-41.885,130.45],"nice":false,"zero":false}}}}
]},
{"layer":[
 {"data":{"name":"years"},"mark":{"type":"rect","fill":"#ffffff","xOffset":-16,"x2Offset":16},
  "encoding":{"x":{"field":"year","type":"nominal","scale":{"type":"point","domain":["2019","mid","2060"],"padding":1.064,"align":0.5064}},"x2":{"field":"year"},
   "y":{"datum":102.64,"type":"quantitative","scale":{"domain":[-51.7,137.57],"nice":false,"zero":false}},"y2":{"datum":-5.7}}},
 {"data":{"name":"years"},"mark":{"type":"rule","color":"#8c8c8c","strokeWidth":1.2,"xOffset":-16},
  "encoding":{"x":{"field":"year","type":"nominal","scale":{"type":"point","domain":["2019","mid","2060"],"padding":1.064,"align":0.5064}},
   "y":{"datum":102.64,"type":"quantitative","scale":{"domain":[-51.7,137.57],"nice":false,"zero":false}},"y2":{"datum":-5.7}}},
 {"data":{"name":"years"},"mark":{"type":"rule","color":"#8c8c8c","strokeWidth":1.2,"xOffset":16},
  "encoding":{"x":{"field":"year","type":"nominal","scale":{"type":"point","domain":["2019","mid","2060"],"padding":1.064,"align":0.5064}},
   "y":{"datum":102.64,"type":"quantitative","scale":{"domain":[-51.7,137.57],"nice":false,"zero":false}},"y2":{"datum":-5.7}}},
 {"data":{"name":"years"},"mark":{"type":"rule","color":"#8c8c8c","strokeWidth":1.2,"xOffset":-16,"x2Offset":-12},
  "encoding":{"x":{"field":"year","type":"nominal","scale":{"type":"point","domain":["2019","mid","2060"],"padding":1.064,"align":0.5064}},"x2":{"field":"year"},
   "y":{"datum":102.64,"type":"quantitative","scale":{"domain":[-51.7,137.57],"nice":false,"zero":false}}}},
 {"data":{"name":"years"},"mark":{"type":"rule","color":"#8c8c8c","strokeWidth":1.2,"xOffset":12,"x2Offset":16},
  "encoding":{"x":{"field":"year","type":"nominal","scale":{"type":"point","domain":["2019","mid","2060"],"padding":1.064,"align":0.5064}},"x2":{"field":"year"},
   "y":{"datum":102.64,"type":"quantitative","scale":{"domain":[-51.7,137.57],"nice":false,"zero":false}}}},
 {"data":{"name":"ages"},"mark":{"type":"text","fontSize":13,"font":"Liberation Sans","color":"#333333","baseline":"middle"},
  "encoding":{"x":{"field":"year","type":"nominal","scale":{"type":"point","domain":["2019","mid","2060"],"padding":1.064,"align":0.5064}},
   "y":{"field":"age","type":"quantitative","scale":{"domain":[-51.7,137.57],"nice":false,"zero":false}},"text":{"field":"age","type":"quantitative","format":"d"}}},
 {"data":{"name":"years"},"mark":{"type":"text","fontSize":12,"font":"Noto Sans CJK KR","color":"#555555","baseline":"middle","text":"나이"},
  "encoding":{"x":{"field":"year","type":"nominal","scale":{"type":"point","domain":["2019","mid","2060"],"padding":1.064,"align":0.5064}},
   "y":{"datum":-13.37,"type":"quantitative","scale":{"domain":[-51.7,137.57],"nice":false,"zero":false}}}},
 {"data":{"name":"titles"},"transform":[{"filter":"datum.year == '2019'"}],"mark":{"type":"rect","fill":"#ffffff","stroke":"#b8a06b","strokeWidth":1.2,"cornerRadius":12,"xOffset":-93,"x2Offset":85},
  "encoding":{"x":{"field":"year","type":"nominal","scale":{"type":"point","domain":["2019","mid","2060"],"padding":1.064,"align":0.5064}},"x2":{"field":"year"},
   "y":{"datum":121.75,"type":"quantitative","scale":{"domain":[-51.7,137.57],"nice":false,"zero":false}},"y2":{"datum":110.26}}},
 {"data":{"name":"titles"},"transform":[{"filter":"datum.year == '2060'"}],"mark":{"type":"rect","fill":"#ffffff","stroke":"#b8a06b","strokeWidth":1.2,"cornerRadius":12,"xOffset":-111.5,"x2Offset":95.5},
  "encoding":{"x":{"field":"year","type":"nominal","scale":{"type":"point","domain":["2019","mid","2060"],"padding":1.064,"align":0.5064}},"x2":{"field":"year"},
   "y":{"datum":121.75,"type":"quantitative","scale":{"domain":[-51.7,137.57],"nice":false,"zero":false}},"y2":{"datum":110.26}}},
 {"data":{"name":"titles"},"transform":[{"filter":"datum.year == '2019'"}],"mark":{"type":"text","fontSize":14.5,"font":"Noto Sans CJK KR","color":"#333333","baseline":"middle","dx":-4},
  "encoding":{"x":{"field":"year","type":"nominal","scale":{"type":"point","domain":["2019","mid","2060"],"padding":1.064,"align":0.5064}},
   "y":{"datum":116.0,"type":"quantitative","scale":{"domain":[-51.7,137.57],"nice":false,"zero":false}},"text":{"field":"title"}}},
 {"data":{"name":"titles"},"transform":[{"filter":"datum.year == '2060'"}],"mark":{"type":"text","fontSize":14.5,"font":"Noto Sans CJK KR","color":"#333333","baseline":"middle","dx":-8},
  "encoding":{"x":{"field":"year","type":"nominal","scale":{"type":"point","domain":["2019","mid","2060"],"padding":1.064,"align":0.5064}},
   "y":{"datum":116.0,"type":"quantitative","scale":{"domain":[-51.7,137.57],"nice":false,"zero":false}},"text":{"field":"title"}}},
 {"data":{"name":"mid"},"mark":{"type":"point","shape":"M-0.4,-1L0.4,0L-0.4,1Z","size":4225,"filled":true,"opacity":1,"strokeWidth":0,"xOffset":5.75,
   "fill":{"gradient":"linear","x1":0,"y1":0,"x2":1,"y2":0.4,"stops":[{"offset":0,"color":"#ffffff"},{"offset":1,"color":"#c4c4c4"}]}},
  "encoding":{"x":{"field":"year","type":"nominal","scale":{"type":"point","domain":["2019","mid","2060"],"padding":1.064,"align":0.5064}},
   "y":{"datum":59.22,"type":"quantitative","scale":{"domain":[-51.7,137.57],"nice":false,"zero":false}}}},
 {"data":{"name":"mid"},"mark":{"type":"text","fontSize":17,"font":"Noto Sans CJK KR","color":"#222222","baseline":"middle","dx":4.75},
  "encoding":{"x":{"field":"year","type":"nominal","scale":{"type":"point","domain":["2019","mid","2060"],"padding":1.064,"align":0.5064}},
   "y":{"datum":35.97,"type":"quantitative","scale":{"domain":[-51.7,137.57],"nice":false,"zero":false}},"text":{"field":"label"}}},
 {"data":{"name":"mid"},"mark":{"type":"text","fontSize":16.2,"font":"Noto Sans CJK KR","color":"#222222","baseline":"middle","align":"right","dx":-91.24,"text":"2019년 고령인구 비율은"},
  "encoding":{"x":{"field":"year","type":"nominal","scale":{"type":"point","domain":["2019","mid","2060"],"padding":1.064,"align":0.5064}},
   "y":{"datum":-35.0,"type":"quantitative","scale":{"domain":[-51.7,137.57],"nice":false,"zero":false}}}},
 {"data":{"name":"mid"},"mark":{"type":"text","fontSize":16.2,"font":"Noto Sans CJK KR","color":"#9a7730","baseline":"middle","align":"left","dx":-87.74,"text":"14.9%"},
  "encoding":{"x":{"field":"year","type":"nominal","scale":{"type":"point","domain":["2019","mid","2060"],"padding":1.064,"align":0.5064}},
   "y":{"datum":-35.0,"type":"quantitative","scale":{"domain":[-51.7,137.57],"nice":false,"zero":false}}}},
 {"data":{"name":"mid"},"mark":{"type":"text","fontSize":16.2,"font":"Noto Sans CJK KR","color":"#222222","baseline":"middle","align":"left","dx":-41.44,"text":"지만,  2060년 예상 고령인구 비율은"},
  "encoding":{"x":{"field":"year","type":"nominal","scale":{"type":"point","domain":["2019","mid","2060"],"padding":1.064,"align":0.5064}},
   "y":{"datum":-35.0,"type":"quantitative","scale":{"domain":[-51.7,137.57],"nice":false,"zero":false}}}},
 {"data":{"name":"mid"},"mark":{"type":"text","fontSize":16.2,"font":"Noto Sans CJK KR","color":"#9a7730","baseline":"middle","align":"right","dx":241.26,"text":"43.9%"},
  "encoding":{"x":{"field":"year","type":"nominal","scale":{"type":"point","domain":["2019","mid","2060"],"padding":1.064,"align":0.5064}},
   "y":{"datum":-35.0,"type":"quantitative","scale":{"domain":[-51.7,137.57],"nice":false,"zero":false}}}},
 {"data":{"name":"mid"},"mark":{"type":"text","fontSize":16.2,"font":"Noto Sans CJK KR","color":"#222222","baseline":"middle","align":"right","dx":245.76,"text":"!"},
  "encoding":{"x":{"field":"year","type":"nominal","scale":{"type":"point","domain":["2019","mid","2060"],"padding":1.064,"align":0.5064}},
   "y":{"datum":-35.0,"type":"quantitative","scale":{"domain":[-51.7,137.57],"nice":false,"zero":false}}}},
 {"data":{"name":"src"},"mark":{"type":"text","fontSize":11,"font":"Noto Sans CJK KR","color":"#444444","baseline":"middle","align":"right","dx":169.5},
  "encoding":{"x":{"field":"year","type":"nominal","scale":{"type":"point","domain":["2019","mid","2060"],"padding":1.064,"align":0.5064}},
   "y":{"datum":140.92,"type":"quantitative","scale":{"domain":[-51.7,137.57],"nice":false,"zero":false}},"text":{"field":"label"}}}
]}
]
}
